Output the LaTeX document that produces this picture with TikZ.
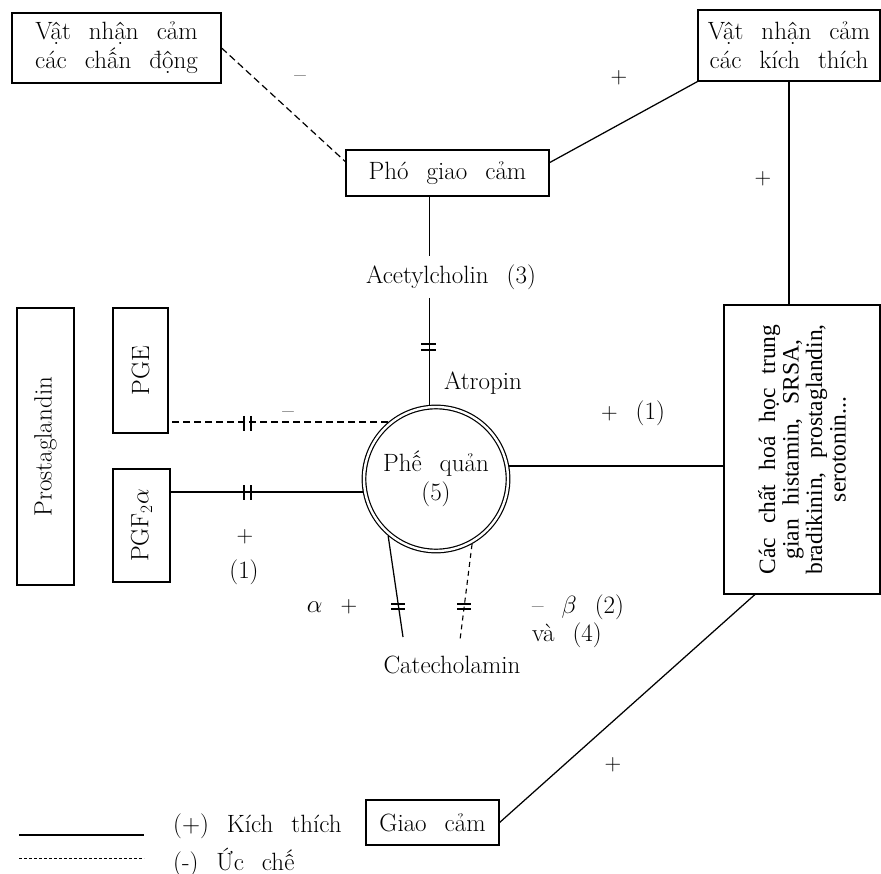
\documentclass[tikz,border=0pt]{standalone}
\usepackage{fontspec}
\usepackage{graphicx}
\newfontfamily\timesf{Liberation Serif}
\usetikzlibrary{calc}
\protected\def\bodyfont{\fontsize{25}{29}\selectfont\spaceskip=0.72em plus 0.1em minus 0.1em\relax}
\protected\def\chemfont{\timesf\fontsize{23.5}{23.5}\selectfont\spaceskip=0.6em plus 0.1em minus 0.1em\relax}
\protected\def\pl{{\fontsize{23}{23}\selectfont +}}
\tikzset{
  lbl/.style={font=\bodyfont, inner sep=0pt},
  box/.style={draw, line width=1.2pt, inner sep=0pt, align=center, lbl},
  exc/.style={line width=1.25pt},
  inh/.style={line width=1.2pt, dash pattern=on 7pt off 4pt},
  inhs/.style={line width=1.1pt, dash pattern=on 5pt off 4pt},
  barmark/.style={line width=1.3pt},
}
\begin{document}
\begin{tikzpicture}[x=1pt,y=-1pt]
\useasboundingbox (0,0) rectangle (881,874);
% boxes
\node[box, minimum width=209pt, minimum height=70pt] (vncd) at (116.5,48) {Vật nhận cảm\\các chấn động};
\node[box, minimum width=182pt, minimum height=71pt] (vnkt) at (789,45.5) {Vật nhận cảm\\các kích thích};
\node[box, minimum width=203pt, minimum height=46pt] (pgc) at (447.5,173) {Phó giao cảm};
\node[box, minimum width=57pt, minimum height=277pt] (prost) at (45.5,446.5) {\rotatebox{90}{Prostaglandin}};
\node[box, minimum width=55pt, minimum height=125pt] (pge) at (140.5,370.5) {\rotatebox{90}{PGE}};
\node[box, minimum width=57pt, minimum height=113pt] (pgf) at (141.5,525.5) {\rotatebox{90}{PGF$_2\alpha$}};
\node[box, minimum width=156pt, minimum height=289pt] (chem) at (802,449.5) {\rotatebox{90}{\parbox{280pt}{\centering\chemfont Các chất hoá học trung\\gian histamin, SRSA,\\bradikinin, prostaglandin,\\serotonin...}}};
\node[box, minimum width=133pt, minimum height=45pt] (gc) at (432.5,822.5) {Giao cảm};
% bronchus circle
\node[circle, draw, double, double distance=2.4pt, line width=1.2pt, minimum size=144pt, inner sep=0pt, outer sep=2.4pt, align=center, lbl] (pq) at (436,479) {Phế quản\\[0pt](5)};
% labels
\node[lbl] (m1) at (300,79) {–};
\node[lbl] (p1) at (619,78) {\pl};
\node[lbl] (p2) at (763,179) {\pl};
\node[lbl] (ach) at (451,277) {Acetylcholin (3)};
\node[lbl] (atr) at (483,383) {Atropin};
\node[lbl] (m2) at (288,415) {–};
\node[lbl] (p3) at (633,413) {\pl\ (1)};
\node[lbl] (p4) at (245,537) {\pl};
\node[lbl] (n1) at (244,572) {(1)};
\node[lbl] (alp) at (332,607) {$\alpha$ \pl};
\node[lbl, anchor=west] (bet) at (532,607) {– $\beta$ (2)};
\node[lbl, anchor=west] (va) at (532,635) {và (4)};
\node[lbl] (cat) at (452,665) {Catecholamin};
\node[lbl] (p5) at (613,765) {\pl};
% legend
\coordinate (ls1) at (19,835);
\coordinate (ls2) at (144,835);
\coordinate (ld1) at (19,858);
\coordinate (ld2) at (144,858);
\draw[exc] (ls1) -- (ls2);
\draw[line width=0.9pt, dash pattern=on 3pt off 2pt] (ld1) -- (ld2);
\node[lbl, anchor=west] (lk) at (173,826) {(+) Kích thích};
\node[lbl, anchor=west] (lu) at (173,862) {(-) Ức chế};
% connectors
\draw[inh] (vncd.east) -- ($(pgc.north west)!0.26!(pgc.south west)$);
\draw[exc] ($(pgc.north east)!0.28!(pgc.south east)$) -- (vnkt.south west);
\draw[exc] (vnkt.south) -- (vnkt.south |- chem.north);
\draw[exc] (pgc.south -| pq.95) -- (pq.95 |- 0,256);
\draw[exc] (pq.95 |- 0,298) -- (pq.95);
\draw[inh] (pq.130.6) -- (pq.130.6 -| pge.east);
\draw[exc] (pq.190) -- (pq.190 -| pgf.east);
\draw[exc] (pq.10) -- (pq.10 -| chem.west);
\coordinate (ca) at (403,637);
\coordinate (cb) at (460,640);
\draw[exc] (pq.230) -- (ca);
\draw[inhs] (pq.299) -- (cb);
\draw[exc] ($(chem.south west)!0.2!(chem.south east)$) -- (gc.east);
% blocking marks
\draw[barmark] (421,344) -- (436,344) (421,350) -- (436,350);
\draw[barmark] (244,416) -- (244,431) (251,416) -- (251,431);
\draw[barmark] (244,485) -- (244,500) (251,485) -- (251,500);
\draw[barmark] (391,604) -- (405,604) (391,609) -- (405,609);
\draw[barmark] (457,604) -- (471,604) (457,609) -- (471,609);
\end{tikzpicture}
\end{document}
